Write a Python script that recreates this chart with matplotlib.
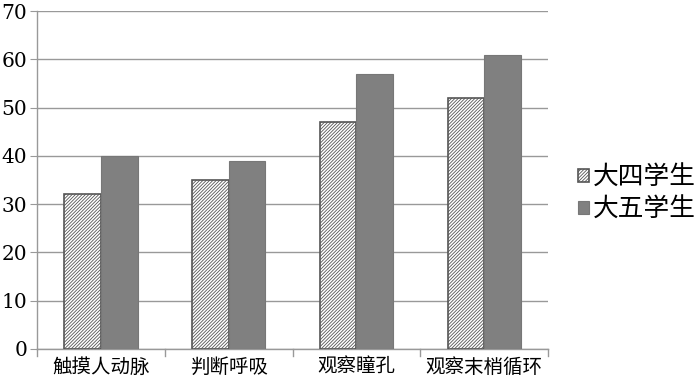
import matplotlib
matplotlib.use("Agg")
import matplotlib.pyplot as plt
import numpy as np

plt.rcParams['font.family'] = ['DejaVu Serif', 'Noto Sans CJK SC']
plt.rcParams['hatch.color'] = '#808080'
plt.rcParams['hatch.linewidth'] = 0.6

categories = ['触摸人动脉', '判断呼吸', '观察瞳孔', '观察末梢循环']
senior4 = [32, 35, 47, 52]
senior5 = [40, 39, 57, 61]
series_names = ['大四学生', '大五学生']
y_ticks = [0, 10, 20, 30, 40, 50, 60, 70]

fig = plt.figure(figsize=(7, 3.85), dpi=100)
ax = fig.add_axes([0.053, 0.094, 0.730, 0.877])

x = np.arange(len(categories))
w = 0.286
b1 = ax.bar(x - w / 2, senior4, w, color='white', edgecolor='#555555',
            hatch='//////////', linewidth=1.2, label=series_names[0], zorder=3)
b2 = ax.bar(x + w / 2, senior5, w, color='#808080', edgecolor='#777777',
            linewidth=0.8, label=series_names[1], zorder=3)

ax.set_xlim(-0.5, len(categories) - 0.5)
ax.set_ylim(0, 70)
ax.set_yticks(y_ticks)
ax.tick_params(axis='y', labelsize=14.5, length=5, color='#999999', pad=2)
ax.set_xticks(x)
ax.set_xticklabels(categories, fontsize=14, family=['Noto Sans CJK SC'])
ax.tick_params(axis='x', length=0, pad=6)
# boundary ticks between categories
for b in np.arange(-0.5, len(categories), 1.0):
    ax.plot([b, b], [0, -1.5], color='#999999', lw=1, clip_on=False, zorder=4)

ax.grid(axis='y', color='#999999', lw=1, zorder=0)
for s in ['top', 'right']:
    ax.spines[s].set_visible(False)
for s in ['left', 'bottom']:
    ax.spines[s].set_color('#999999')
    ax.spines[s].set_linewidth(1)

leg = fig.legend(handles=[b1, b2], labels=series_names, loc='center left',
                 bbox_to_anchor=(0.826, 0.497), frameon=False, borderpad=0,
                 borderaxespad=0,
                 prop={'family': 'Noto Sans CJK SC', 'size': 18.5},
                 handlelength=0.42, handleheight=0.42, handletextpad=0.15,
                 labelspacing=0.25)

fig.savefig('out.png', dpi=100)
